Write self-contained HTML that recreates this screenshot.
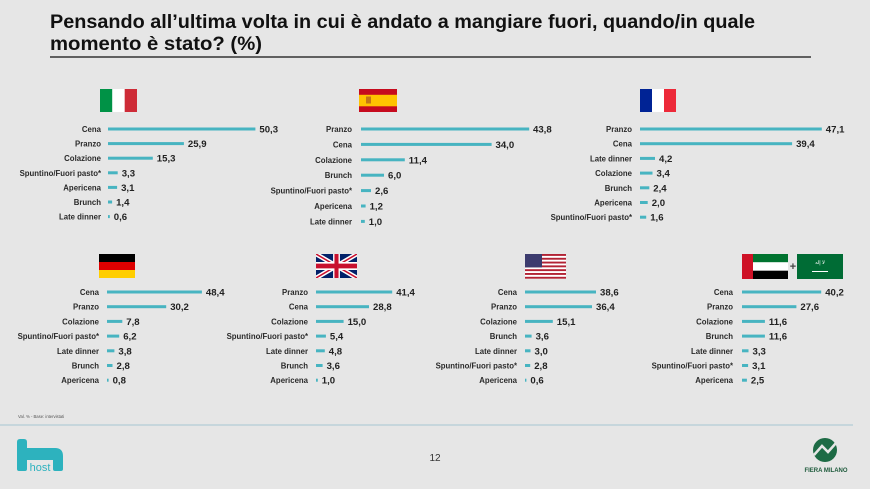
<!DOCTYPE html>
<html><head><meta charset="utf-8"><style>
html,body{margin:0;padding:0;background:#e6e6e6;}
svg{display:block;}
text{font-family:"Liberation Sans",Arial,sans-serif;}
.l{font-size:7.8px;font-weight:bold;fill:#2a2a2a;text-anchor:end;}
.v{font-size:9.6px;font-weight:bold;fill:#222;}
.b{fill:#47b4c1;}
</style></head><body>
<svg width="870" height="489" viewBox="0 0 870 489" xmlns="http://www.w3.org/2000/svg">
<rect width="870" height="489" fill="#e6e6e6"/>
<text x="50" y="28" font-size="19" font-weight="bold" fill="#111" textLength="705" lengthAdjust="spacingAndGlyphs">Pensando all’ultima volta in cui è andato a mangiare fuori, quando/in quale</text>
<text x="50" y="50" font-size="19" font-weight="bold" fill="#111" textLength="212" lengthAdjust="spacingAndGlyphs">momento è stato? (%)</text>
<line x1="50" y1="57" x2="811" y2="57" stroke="#333" stroke-width="1.5"/>

<!-- Flags row 1 -->
<g>
<rect x="100" y="89" width="12.3" height="23" fill="#009246"/><rect x="112.3" y="89" width="12.4" height="23" fill="#fff"/><rect x="124.7" y="89" width="12.3" height="23" fill="#ce2b37"/>
</g>
<g>
<rect x="359" y="89" width="38" height="23" fill="#c60b1e"/><rect x="359" y="94.8" width="38" height="11.5" fill="#ffc400"/>
<rect x="366" y="96.5" width="5" height="7" fill="#b5651d" opacity="0.8"/>
</g>
<g>
<rect x="640" y="89" width="12" height="23" fill="#002395"/><rect x="652" y="89" width="12" height="23" fill="#fff"/><rect x="664" y="89" width="12" height="23" fill="#ed2939"/>
</g>

<!-- Flags row 2 -->
<g>
<rect x="99" y="254" width="36" height="8" fill="#000"/><rect x="99" y="262" width="36" height="8" fill="#dd0000"/><rect x="99" y="270" width="36" height="8" fill="#ffce00"/>
</g>
<g>
<svg x="316" y="254" width="41" height="24" viewBox="0 0 60 30" preserveAspectRatio="none">
<rect width="60" height="30" fill="#012169"/>
<path d="M0,0 L60,30 M60,0 L0,30" stroke="#fff" stroke-width="6"/>
<path d="M0,0 L60,30 M60,0 L0,30" stroke="#c8102e" stroke-width="2"/>
<path d="M30,0 V30 M0,15 H60" stroke="#fff" stroke-width="10"/>
<path d="M30,0 V30 M0,15 H60" stroke="#c8102e" stroke-width="6"/>
</svg>
</g>
<g>
<rect x="525" y="254" width="41" height="25" fill="#fff"/>
<rect x="525" y="254" width="41" height="1.9" fill="#b22234"/>
<rect x="525" y="257.8" width="41" height="1.9" fill="#b22234"/>
<rect x="525" y="261.6" width="41" height="1.9" fill="#b22234"/>
<rect x="525" y="265.4" width="41" height="1.9" fill="#b22234"/>
<rect x="525" y="269.2" width="41" height="1.9" fill="#b22234"/>
<rect x="525" y="273" width="41" height="1.9" fill="#b22234"/>
<rect x="525" y="276.8" width="41" height="1.9" fill="#b22234"/>
<rect x="525" y="254" width="17" height="13.4" fill="#3c3b6e"/>
</g>
<g>
<rect x="742" y="254" width="11" height="25" fill="#ce1126"/>
<rect x="753" y="254" width="35" height="8.3" fill="#00732f"/>
<rect x="753" y="262.3" width="35" height="8.4" fill="#fff"/>
<rect x="753" y="270.7" width="35" height="8.3" fill="#000"/>
<text x="793" y="270" font-size="11" font-weight="bold" fill="#444" text-anchor="middle">+</text>
<rect x="797" y="254" width="46" height="25" fill="#006c35"/>
<text x="820" y="264" font-size="5" fill="#fff" text-anchor="middle">لا إله</text>
<rect x="812" y="271" width="16" height="1" fill="#fff"/>
</g>

<!-- Italy -->
<text class="l" x="101" y="132">Cena</text><rect class="b" x="108" y="127.5" width="147.4" height="3"/><text class="v" x="259.4" y="132.5">50,3</text>
<text class="l" x="101" y="146.6">Pranzo</text><rect class="b" x="108" y="142.1" width="75.9" height="3"/><text class="v" x="187.9" y="147.1">25,9</text>
<text class="l" x="101" y="161.2">Colazione</text><rect class="b" x="108" y="156.7" width="44.8" height="3"/><text class="v" x="156.8" y="161.7">15,3</text>
<text class="l" x="101" y="175.8">Spuntino/Fuori pasto*</text><rect class="b" x="108" y="171.3" width="9.7" height="3"/><text class="v" x="121.7" y="176.3">3,3</text>
<text class="l" x="101" y="190.4">Apericena</text><rect class="b" x="108" y="185.9" width="9.1" height="3"/><text class="v" x="121.1" y="190.9">3,1</text>
<text class="l" x="101" y="205">Brunch</text><rect class="b" x="108" y="200.5" width="4.1" height="3"/><text class="v" x="116.1" y="205.5">1,4</text>
<text class="l" x="101" y="219.6">Late dinner</text><rect class="b" x="108" y="215.1" width="1.8" height="3"/><text class="v" x="113.8" y="220.1">0,6</text>

<!-- Spain -->
<text class="l" x="352" y="132">Pranzo</text><rect class="b" x="361" y="127.5" width="168.2" height="3"/><text class="v" x="533" y="132.5">43,8</text>
<text class="l" x="352" y="147.4">Cena</text><rect class="b" x="361" y="142.9" width="130.6" height="3"/><text class="v" x="495.5" y="147.9">34,0</text>
<text class="l" x="352" y="162.8">Colazione</text><rect class="b" x="361" y="158.3" width="43.8" height="3"/><text class="v" x="408.8" y="163.3">11,4</text>
<text class="l" x="352" y="178.2">Brunch</text><rect class="b" x="361" y="173.7" width="23" height="3"/><text class="v" x="388" y="178.7">6,0</text>
<text class="l" x="352" y="193.6">Spuntino/Fuori pasto*</text><rect class="b" x="361" y="189.1" width="10" height="3"/><text class="v" x="375" y="194.1">2,6</text>
<text class="l" x="352" y="209">Apericena</text><rect class="b" x="361" y="204.5" width="4.6" height="3"/><text class="v" x="369.6" y="209.5">1,2</text>
<text class="l" x="352" y="224.4">Late dinner</text><rect class="b" x="361" y="219.9" width="3.8" height="3"/><text class="v" x="368.8" y="224.9">1,0</text>

<!-- France -->
<text class="l" x="632" y="132">Pranzo</text><rect class="b" x="640" y="127.5" width="181.8" height="3"/><text class="v" x="825.8" y="132.5">47,1</text>
<text class="l" x="632" y="146.7">Cena</text><rect class="b" x="640" y="142.2" width="152.1" height="3"/><text class="v" x="796.1" y="147.2">39,4</text>
<text class="l" x="632" y="161.4">Late dinner</text><rect class="b" x="640" y="156.9" width="15" height="3"/><text class="v" x="659" y="161.9">4,2</text>
<text class="l" x="632" y="176.1">Colazione</text><rect class="b" x="640" y="171.6" width="12.5" height="3"/><text class="v" x="656.5" y="176.6">3,4</text>
<text class="l" x="632" y="190.8">Brunch</text><rect class="b" x="640" y="186.3" width="9.3" height="3"/><text class="v" x="653.3" y="191.3">2,4</text>
<text class="l" x="632" y="205.5">Apericena</text><rect class="b" x="640" y="201" width="7.7" height="3"/><text class="v" x="651.7" y="206">2,0</text>
<text class="l" x="632" y="220.2">Spuntino/Fuori pasto*</text><rect class="b" x="640" y="215.7" width="6.2" height="3"/><text class="v" x="650.2" y="220.7">1,6</text>

<!-- Germany -->
<text class="l" x="99" y="295">Cena</text><rect class="b" x="107" y="290.5" width="94.9" height="3"/><text class="v" x="205.9" y="295.5">48,4</text>
<text class="l" x="99" y="309.7">Pranzo</text><rect class="b" x="107" y="305.2" width="59.2" height="3"/><text class="v" x="170.2" y="310.2">30,2</text>
<text class="l" x="99" y="324.4">Colazione</text><rect class="b" x="107" y="319.9" width="15.3" height="3"/><text class="v" x="126.3" y="324.9">7,8</text>
<text class="l" x="99" y="339.1">Spuntino/Fuori pasto*</text><rect class="b" x="107" y="334.6" width="12.2" height="3"/><text class="v" x="123.2" y="339.6">6,2</text>
<text class="l" x="99" y="353.8">Late dinner</text><rect class="b" x="107" y="349.3" width="7.4" height="3"/><text class="v" x="118.4" y="354.3">3,8</text>
<text class="l" x="99" y="368.5">Brunch</text><rect class="b" x="107" y="364" width="5.5" height="3"/><text class="v" x="116.5" y="369">2,8</text>
<text class="l" x="99" y="383.2">Apericena</text><rect class="b" x="107" y="378.7" width="1.6" height="3"/><text class="v" x="112.6" y="383.7">0,8</text>

<!-- UK -->
<text class="l" x="308" y="295">Pranzo</text><rect class="b" x="316" y="290.5" width="76.2" height="3"/><text class="v" x="396.2" y="295.5">41,4</text>
<text class="l" x="308" y="309.7">Cena</text><rect class="b" x="316" y="305.2" width="53" height="3"/><text class="v" x="373" y="310.2">28,8</text>
<text class="l" x="308" y="324.4">Colazione</text><rect class="b" x="316" y="319.9" width="27.6" height="3"/><text class="v" x="347.6" y="324.9">15,0</text>
<text class="l" x="308" y="339.1">Spuntino/Fuori pasto*</text><rect class="b" x="316" y="334.6" width="9.9" height="3"/><text class="v" x="329.9" y="339.6">5,4</text>
<text class="l" x="308" y="353.8">Late dinner</text><rect class="b" x="316" y="349.3" width="8.8" height="3"/><text class="v" x="328.8" y="354.3">4,8</text>
<text class="l" x="308" y="368.5">Brunch</text><rect class="b" x="316" y="364" width="6.6" height="3"/><text class="v" x="326.6" y="369">3,6</text>
<text class="l" x="308" y="383.2">Apericena</text><rect class="b" x="316" y="378.7" width="1.8" height="3"/><text class="v" x="321.8" y="383.7">1,0</text>

<!-- US -->
<text class="l" x="517" y="295">Cena</text><rect class="b" x="525" y="290.5" width="71" height="3"/><text class="v" x="600" y="295.5">38,6</text>
<text class="l" x="517" y="309.7">Pranzo</text><rect class="b" x="525" y="305.2" width="67" height="3"/><text class="v" x="596" y="310.2">36,4</text>
<text class="l" x="517" y="324.4">Colazione</text><rect class="b" x="525" y="319.9" width="27.8" height="3"/><text class="v" x="556.8" y="324.9">15,1</text>
<text class="l" x="517" y="339.1">Brunch</text><rect class="b" x="525" y="334.6" width="6.6" height="3"/><text class="v" x="535.6" y="339.6">3,6</text>
<text class="l" x="517" y="353.8">Late dinner</text><rect class="b" x="525" y="349.3" width="5.5" height="3"/><text class="v" x="534.5" y="354.3">3,0</text>
<text class="l" x="517" y="368.5">Spuntino/Fuori pasto*</text><rect class="b" x="525" y="364" width="5.2" height="3"/><text class="v" x="534.2" y="369">2,8</text>
<text class="l" x="517" y="383.2">Apericena</text><rect class="b" x="525" y="378.7" width="1.4" height="3"/><text class="v" x="530.4" y="383.7">0,6</text>

<!-- UAE + KSA -->
<text class="l" x="733" y="295">Cena</text><rect class="b" x="742" y="290.5" width="79.2" height="3"/><text class="v" x="825.2" y="295.5">40,2</text>
<text class="l" x="733" y="309.7">Pranzo</text><rect class="b" x="742" y="305.2" width="54.4" height="3"/><text class="v" x="800.4" y="310.2">27,6</text>
<text class="l" x="733" y="324.4">Colazione</text><rect class="b" x="742" y="319.9" width="22.9" height="3"/><text class="v" x="768.9" y="324.9">11,6</text>
<text class="l" x="733" y="339.1">Brunch</text><rect class="b" x="742" y="334.6" width="22.9" height="3"/><text class="v" x="768.9" y="339.6">11,6</text>
<text class="l" x="733" y="353.8">Late dinner</text><rect class="b" x="742" y="349.3" width="6.5" height="3"/><text class="v" x="752.5" y="354.3">3,3</text>
<text class="l" x="733" y="368.5">Spuntino/Fuori pasto*</text><rect class="b" x="742" y="364" width="6.1" height="3"/><text class="v" x="752.1" y="369">3,1</text>
<text class="l" x="733" y="383.2">Apericena</text><rect class="b" x="742" y="378.7" width="4.9" height="3"/><text class="v" x="750.9" y="383.7">2,5</text>

<!-- Footer -->
<text x="18" y="418" font-size="4.2" fill="#555">Val. % - Base: intervistati</text>
<line x1="0" y1="425" x2="853" y2="425" stroke="#a6c7d2" stroke-width="1"/>
<text x="435" y="461" font-size="10" fill="#333" text-anchor="middle">12</text>

<!-- host logo -->
<g fill="#2db2be">
<path d="M17,442 Q17,439 20,439 L24,439 Q27,439 27,442 L27,448 L55,448 Q63,448 63,456 L63,469 Q63,471 61,471 L55,471 Q53,471 53,469 L53,460 L27,460 L27,469 Q27,471 25,471 L19,471 Q17,471 17,469 Z"/>
<text x="40" y="471" font-size="11" text-anchor="middle" fill="#2db2be">host</text>
</g>

<!-- Fiera Milano logo -->
<g>
<circle cx="825" cy="450" r="12" fill="#1d6b45"/>
<path d="M814,455 L822,446 L828,452 L836,443" stroke="#e6e6e6" stroke-width="2.5" fill="none"/>
<text x="826" y="472" font-size="6" font-weight="bold" fill="#1d5a3b" text-anchor="middle">FIERA MILANO</text>
</g>
</svg>
</body></html>
